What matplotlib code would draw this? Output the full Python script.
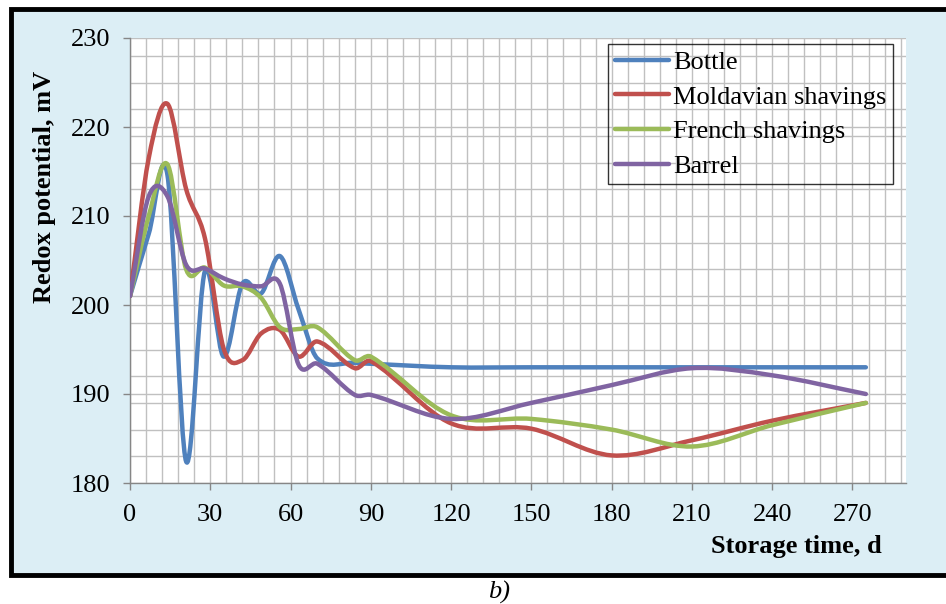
import numpy as np
import matplotlib
matplotlib.use('Agg')
import matplotlib.pyplot as plt
from matplotlib.path import Path
from matplotlib.patches import PathPatch, Rectangle
from matplotlib.lines import Line2D
from matplotlib.ticker import MultipleLocator, FixedLocator

# ---- data ----
days = [0, 7, 14, 21, 28, 35, 42, 49, 56, 63, 70, 84, 90, 120, 150, 180, 210, 240, 275]
bottle = [201, 208.0, 214.6, 182.4, 203.8, 194.2, 202.4, 201.3, 205.5, 199.5, 194.0,
          193.5, 193.4, 193.0, 193.0, 193.0, 193.0, 193.0, 193.0]
moldavian = [201, 216.5, 222.6, 213.0, 207.5, 195.1, 193.8, 196.8, 197.2, 194.2, 195.9,
             192.9, 193.7, 186.7, 186.1, 183.1, 184.8, 187.0, 189.0]
french = [201, 210.0, 215.8, 204.0, 204.2, 202.2, 202.1, 200.8, 197.5, 197.3, 197.5,
          193.8, 194.2, 187.6, 187.2, 186.0, 184.1, 186.5, 189.0]
barrel = [201, 212.2, 212.2, 204.5, 204.1, 203.0, 202.3, 202.1, 202.4, 193.3, 193.4,
          189.9, 189.9, 187.2, 189.0, 191.0, 192.9, 192.1, 190.0]

series_names = ['Bottle', 'Moldavian shavings', 'French shavings', 'Barrel']
series_vals = [bottle, moldavian, french, barrel]
colors = ['#4F81BD', '#C0504D', '#9BBB59', '#8064A2']

x_ticks = [0, 30, 60, 90, 120, 150, 180, 210, 240, 270]
y_ticks = [180, 190, 200, 210, 220, 230]

plt.rcParams['font.family'] = ['Liberation Serif', 'DejaVu Serif']

W, H = 946, 604
fig = plt.figure(figsize=(W / 100, H / 100), dpi=100, facecolor='white')

# chart area background with border
fig.patches.append(Rectangle((11 / W, 1 - 575 / H), 2.0, (575 - 9) / H,
                             transform=fig.transFigure, facecolor='#DCEEF5',
                             edgecolor='black', lw=3.5, zorder=-10))

L, T, R, B = 130, 38, 906, 483
ax = fig.add_axes([L / W, 1 - B / H, (R - L) / W, (B - T) / H])
ax.set_facecolor('white')


def smooth_path(xs, ys):
    """Smoothed line (Hermite / Bezier) through the data points."""
    x = np.asarray(xs, float)
    y = np.asarray(ys, float)
    n = len(x)
    m = np.zeros(n)
    for i in range(n):
        a = max(i - 1, 0)
        b = min(i + 1, n - 1)
        m[i] = (y[b] - y[a]) / (x[b] - x[a])
    verts = [(x[0], y[0])]
    codes = [Path.MOVETO]
    for i in range(n - 1):
        h = x[i + 1] - x[i]
        verts += [(x[i] + h / 3, y[i] + m[i] * h / 3),
                  (x[i + 1] - h / 3, y[i + 1] - m[i + 1] * h / 3),
                  (x[i + 1], y[i + 1])]
        codes += [Path.CURVE4] * 3
    return Path(verts, codes)


handles = []
for name, vals, c in zip(series_names, series_vals, colors):
    patch = PathPatch(smooth_path(days, vals), facecolor='none', edgecolor=c,
                      lw=3.2, capstyle='round', joinstyle='round', zorder=3)
    ax.add_patch(patch)
    handles.append(Line2D([], [], color=c, lw=3.2, solid_capstyle='round', label=name))

ax.set_xlim(0, 290)
ax.set_ylim(180, 230)
ax.xaxis.set_major_locator(FixedLocator(x_ticks))
ax.yaxis.set_major_locator(FixedLocator(y_ticks))
ax.xaxis.set_minor_locator(MultipleLocator(6))
ax.yaxis.set_minor_locator(FixedLocator(np.arange(180, 231, 3)))
ax.grid(which='both', color='#C0C0C0', lw=1.0, zorder=0)
ax.set_axisbelow(True)

for s in ['top', 'right']:
    ax.spines[s].set_visible(False)
for s in ['left', 'bottom']:
    ax.spines[s].set_color('#868686')
    ax.spines[s].set_linewidth(1.0)

ax.tick_params(which='major', direction='out', length=5, width=1, color='#868686',
               labelsize=19, labelcolor='black')
ax.tick_params(axis='y', which='major', pad=9)
ax.tick_params(axis='x', which='major', pad=10)
ax.tick_params(which='minor', length=0)

leg = ax.legend(handles=handles, loc='upper right', bbox_to_anchor=(0.983, 0.9865),
                borderaxespad=0, fontsize=19, frameon=True, fancybox=False,
                handlelength=2.05, handletextpad=0.15, labelspacing=0.42,
                borderpad=0.25)
leg.get_frame().set_facecolor('none')
leg.get_frame().set_edgecolor('black')
leg.get_frame().set_linewidth(1.0)

fig.text(882 / W, 1 - 547 / H, 'Storage time, d', ha='right', va='center',
         fontsize=19, fontweight='bold')
fig.text(44 / W, 1 - 187 / H, 'Redox potential, mV', ha='center', va='center',
         rotation=90, fontsize=19, fontweight='bold')
fig.text(499 / W, 1 - 592 / H, 'b)', ha='center', va='center', fontsize=19,
         style='italic')

fig.savefig('out.png', dpi=100, facecolor='white')
